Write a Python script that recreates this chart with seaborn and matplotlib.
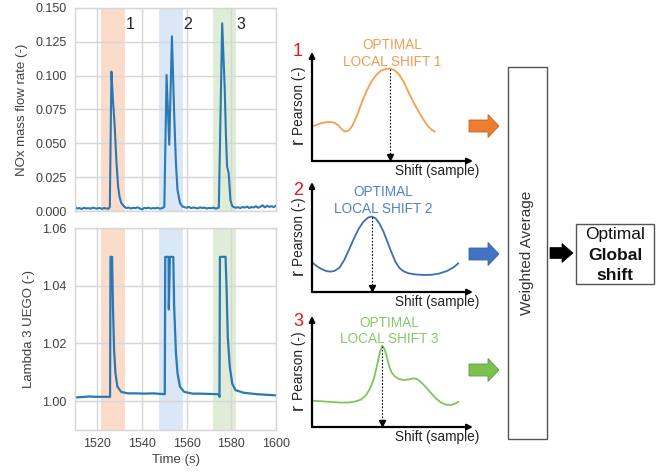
import matplotlib
matplotlib.use("Agg")
import matplotlib.pyplot as plt
import numpy as np
import pandas as pd
import seaborn as sns
from matplotlib.patches import FancyArrow, Rectangle

# ---------------- measured signals ----------------
nox_time = [
    1510, 1511, 1512, 1513, 1514, 1515, 1516, 1517, 1518, 1519, 1520, 1521, 1522, 1523, 1524, 1525,
    1525.6, 1526.3, 1527.0, 1527.8, 1528.5, 1529.3, 1530.0, 1530.7, 1531.4, 1532.2,
    1533, 1534, 1535, 1536, 1537, 1538, 1539, 1540, 1541, 1542, 1543, 1544, 1545, 1546, 1547, 1548, 1549,
    1550.0, 1551.0, 1552.2, 1553.4, 1554.4, 1555.2, 1555.9, 1557.0, 1558.0,
    1559, 1560, 1561, 1562, 1563, 1564, 1565, 1566, 1567, 1568, 1569, 1570, 1571, 1572, 1573,
    1574.4, 1575.9, 1577.0, 1577.6, 1578.1, 1578.8, 1579.6, 1580.3, 1580.9,
    1582, 1583, 1584, 1585, 1586, 1587, 1588, 1589, 1590, 1591, 1592, 1593, 1594, 1595, 1596, 1597,
    1598, 1599, 1600,
]
nox_rate = [
    0.0030, 0.0018, 0.0022, 0.0015, 0.0024, 0.0019, 0.0021, 0.0017, 0.0025, 0.0020, 0.0018, 0.0023,
    0.0016, 0.0022, 0.0019, 0.0017,
    0.0030, 0.1030, 0.0820, 0.0620, 0.0380, 0.0180, 0.0100, 0.0060, 0.0045, 0.0030,
    0.0022, 0.0026, 0.0018, 0.0024, 0.0021, 0.0027, 0.0019, 0.0012, 0.0023, 0.0020, 0.0025, 0.0018,
    0.0022, 0.0019, 0.0024, 0.0017, 0.0021,
    0.0030, 0.1005, 0.0490, 0.1290, 0.0720, 0.0350, 0.0155, 0.0060, 0.0035,
    0.0028, 0.0024, 0.0030, 0.0021, 0.0026, 0.0023, 0.0019, 0.0027, 0.0022, 0.0025, 0.0018, 0.0023,
    0.0020, 0.0026, 0.0017,
    0.0025, 0.1387, 0.0920, 0.0550, 0.0330, 0.0280, 0.0080, 0.0040, 0.0030,
    0.0024, 0.0028, 0.0021, 0.0030, 0.0025, 0.0033, 0.0022, 0.0029, 0.0026, 0.0035, 0.0024, 0.0031,
    0.0042, 0.0027, 0.0038, 0.0030, 0.0036, 0.0028, 0.0040,
]

lambda_time = [
    1510, 1513, 1516, 1519, 1522, 1525.7,
    1525.9, 1526.6, 1527.0, 1527.5, 1528.1, 1529.0, 1530.7, 1533.7,
    1537, 1541, 1545, 1550.2,
    1550.4, 1551.9, 1552.0, 1552.5, 1554.0,
    1554.4, 1555.2, 1555.9, 1557.0, 1558.9, 1562.6,
    1566, 1570, 1574.4, 1574.7,
    1574.9, 1577.4, 1577.9, 1578.4, 1579.3, 1580.4, 1581.9, 1585.6, 1591.5, 1596, 1600,
]
lambda_value = [
    1.0013, 1.0014, 1.0016, 1.0015, 1.0015, 1.0015,
    1.0500, 1.0500, 1.0327, 1.0177, 1.0097, 1.0050, 1.0032, 1.0027,
    1.0027, 1.0026, 1.0027, 1.0024,
    1.0500, 1.0500, 1.0318, 1.0500, 1.0500,
    1.0327, 1.0166, 1.0097, 1.0050, 1.0032, 1.0026,
    1.0026, 1.0025, 1.0024, 1.0015,
    1.0500, 1.0500, 1.0385, 1.0223, 1.0119, 1.0061, 1.0038, 1.0029, 1.0024, 1.0022, 1.0020,
]

window_bounds = [(1521.8, 1532.4), (1547.6, 1558.2), (1571.8, 1582.2)]
window_labels = ["1", "2", "3"]
window_label_time = [1534.9, 1560.4, 1584.1]
window_colors = ["#fbdccb", "#d9e7f6", "#dfedd6"]

time_ticks = [1520, 1540, 1560, 1580, 1600]
nox_ticks = [0.0, 0.025, 0.05, 0.075, 0.1, 0.125, 0.15]
lambda_ticks = [1.00, 1.02, 1.04, 1.06]

# ---------------- cross-correlation sketches ----------------
shift_1 = [0, 3, 6, 9, 11.5, 14, 16.5, 18.5, 20.5, 22.5, 25, 28, 31, 34, 37, 40, 43, 46, 48.4,
           51, 54, 57, 60, 63, 66, 69, 72, 74.5, 76.4]
r_pearson_1 = [0.315, 0.333, 0.348, 0.356, 0.358, 0.350, 0.325, 0.290, 0.270, 0.278, 0.320, 0.420,
               0.540, 0.645, 0.730, 0.792, 0.830, 0.845, 0.848, 0.835, 0.795, 0.725, 0.630, 0.540,
               0.460, 0.385, 0.320, 0.285, 0.269]

shift_2 = [0, 3, 6, 9, 11.5, 14, 17, 20, 23, 26, 29, 32, 35, 37.1, 39.5, 42, 44.5, 47, 49.5, 52,
           54.5, 57, 60, 64, 69, 74, 79, 84, 88, 90.9]
r_pearson_2 = [0.270, 0.235, 0.208, 0.190, 0.185, 0.192, 0.220, 0.290, 0.385, 0.485, 0.575, 0.640,
               0.678, 0.686, 0.670, 0.620, 0.545, 0.450, 0.355, 0.270, 0.215, 0.188, 0.170, 0.160,
               0.155, 0.156, 0.168, 0.192, 0.225, 0.261]

shift_3 = [0, 6, 12, 18, 23, 27, 30.5, 33.5, 36, 38.5, 40.5, 42.3, 43.7, 45, 46.5, 48, 49.5, 51.5,
           54, 57, 60, 63, 65.5, 68, 71, 74, 77, 80, 83, 86, 88.5, 90.9]
r_pearson_3 = [0.237, 0.232, 0.225, 0.220, 0.221, 0.230, 0.248, 0.285, 0.345, 0.440, 0.560, 0.680,
               0.730, 0.705, 0.630, 0.545, 0.490, 0.455, 0.432, 0.423, 0.428, 0.438, 0.432, 0.400,
               0.355, 0.305, 0.258, 0.222, 0.202, 0.198, 0.208, 0.228]

sketch_curves = [(shift_1, r_pearson_1), (shift_2, r_pearson_2), (shift_3, r_pearson_3)]
sketch_numbers = ["1", "2", "3"]
sketch_titles = ["LOCAL SHIFT 1", "LOCAL SHIFT 2", "LOCAL SHIFT 3"]
sketch_line_colors = ["#f4a04c", "#3e6db4", "#7ec55b"]
sketch_text_colors = ["#f39b4f", "#5581c8", "#88c866"]
arrow_fill = ["#ed7d31", "#4472c4", "#7cc150"]
arrow_edge = ["#c4662a", "#3a62a8", "#5c9a3c"]

# ---------------- styling ----------------
sns.set_theme(style="whitegrid")
plt.rcParams["font.family"] = ["Liberation Sans", "DejaVu Sans"]

W, H = 661, 472
fig = plt.figure(figsize=(W / 100, H / 100), dpi=100)


def px_rect(left, top, right, bottom):
    return [left / W, 1 - bottom / H, (right - left) / W, (bottom - top) / H]


grid_col = "#d6d6d6"
tick_col = "#404040"
line_col = "#2a78b4"

nox_df = pd.DataFrame({"time": nox_time, "nox": nox_rate})
lam_df = pd.DataFrame({"time": lambda_time, "lam": lambda_value})

ax1 = fig.add_axes(px_rect(75, 8, 276, 211))
ax2 = fig.add_axes(px_rect(75, 228, 276, 430))

for ax in (ax1, ax2):
    ax.set_axisbelow(True)
    for (a, b), c in zip(window_bounds, window_colors):
        ax.axvspan(a, b, color=c, lw=0, zorder=0.2)
    ax.grid(True, color=grid_col, lw=1)
    for sp in ax.spines.values():
        sp.set_color(grid_col)
        sp.set_linewidth(1)
    ax.set_xlim(1510, 1600)
    ax.set_xticks(time_ticks)
    ax.tick_params(length=0, pad=6, labelsize=9, labelcolor=tick_col)

sns.lineplot(data=nox_df, x="time", y="nox", ax=ax1, color=line_col, lw=1.5,
             estimator=None, sort=False)
ax1.set_ylim(0, 0.15)
ax1.set_yticks(nox_ticks)
ax1.set_yticklabels([f"{v:.3f}" for v in nox_ticks])
ax1.tick_params(labelbottom=False)
ax1.set_xlabel("")
ax1.set_ylabel("NOx mass flow rate (-)", fontsize=9.5, color=tick_col, labelpad=5)
for lab, t in zip(window_labels, window_label_time):
    ax1.text(t, 0.138, lab, fontsize=11.5, color="#222222", ha="center", va="center")

sns.lineplot(data=lam_df, x="time", y="lam", ax=ax2, color=line_col, lw=1.6,
             estimator=None, sort=False)
ax2.set_ylim(0.99, 1.06)
ax2.set_yticks(lambda_ticks)
ax2.set_yticklabels([f"{v:.2f}" for v in lambda_ticks])
ax2.set_xticklabels([str(t) for t in time_ticks])
ax2.set_xlabel("Time (s)", fontsize=9.5, color=tick_col, labelpad=3)
ax2.set_ylabel("Lambda 3 UEGO (-)", fontsize=9.5, color=tick_col, labelpad=5)

# ---------------- flow diagram layer ----------------
ax_bg = fig.add_axes([0, 0, 1, 1], zorder=0)
ax_bg.set_xlim(0, W)
ax_bg.set_ylim(H, 0)
ax_bg.axis("off")
ax_bg.patch.set_alpha(0)

for yc, fc, ec in zip([126, 254, 370], arrow_fill, arrow_edge):
    ax_bg.add_patch(FancyArrow(469, yc, 30, 0, width=12, head_width=23, head_length=11,
                               length_includes_head=True, fc=fc, ec=ec, lw=0.6))
ax_bg.add_patch(FancyArrow(550, 253, 23, 0, width=11, head_width=19, head_length=11,
                           length_includes_head=True, fc="black", ec="black", lw=0.5))

ax_bg.add_patch(Rectangle((508, 67), 39, 372, fill=False, ec="#555555", lw=1))
ax_bg.text(527.5, 253, "Weighted Average", rotation=90, ha="center", va="center",
           fontsize=11, color="#333333")
ax_bg.add_patch(Rectangle((576, 224), 78, 60, fill=False, ec="#555555", lw=1))
ax_bg.text(615, 234, "Optimal", ha="center", va="center", fontsize=12.5, color="#111111")
ax_bg.text(615, 255, "Global", ha="center", va="center", fontsize=12.5, fontweight="bold",
           color="#111111")
ax_bg.text(615, 275, "shift", ha="center", va="center", fontsize=12.5, fontweight="bold",
           color="#111111")

sketch_rects = [(312, 52, 473, 161), (312, 182, 473, 292), (312, 316, 473, 427)]
title_pos = [(0.50, 1.064, 0.911), (0.443, 0.912, 0.752), (0.48, 0.934, 0.79)]
number_y = [1.0, 0.927, 0.95]

for i, rect in enumerate(sketch_rects):
    sx = fig.add_axes(px_rect(*rect), zorder=2)
    sx.set_xlim(0, 100)
    sx.set_ylim(0, 1)
    sx.axis("off")
    sx.patch.set_alpha(0)
    shift, rp = sketch_curves[i]
    sns.lineplot(x=shift, y=rp, ax=sx, color=sketch_line_colors[i], lw=1.3,
                 estimator=None, sort=False)
    # axes drawn as arrows
    arrow_kw = dict(arrowstyle="-|>", color="black", lw=1.6, mutation_scale=8,
                    shrinkA=0, shrinkB=0)
    sx.annotate("", xy=(0, 1.0), xytext=(0, 0), xycoords="axes fraction",
                textcoords="axes fraction", arrowprops=arrow_kw, annotation_clip=False)
    sx.annotate("", xy=(1.0, 0), xytext=(0, 0), xycoords="axes fraction",
                textcoords="axes fraction", arrowprops=arrow_kw, annotation_clip=False)
    # optimal local shift: the position of the correlation maximum
    k = int(np.argmax(rp))
    sx.plot([shift[k], shift[k]], [rp[k], 0.04], ls=(0, (1.5, 1.5)), color="black", lw=0.8)
    sx.plot(shift[k], 0.035, marker="v", ms=4, color="black", clip_on=False)
    tx, ty1, ty2 = title_pos[i]
    sx.text(tx, ty1, "OPTIMAL", transform=sx.transAxes, ha="center", va="center",
            fontsize=9.8, color=sketch_text_colors[i])
    sx.text(tx, ty2, sketch_titles[i], transform=sx.transAxes, ha="center",
            va="center", fontsize=9.8, color=sketch_text_colors[i])
    sx.text(-0.087, number_y[i], sketch_numbers[i], transform=sx.transAxes, ha="center",
            va="center", fontsize=13, color="#e3191c")
    sx.text(-0.056, 0.24, "Pearson (-)", transform=sx.transAxes, rotation=90,
            rotation_mode="anchor", ha="left", va="baseline", fontsize=9.8, color="#222222")
    sx.text(-0.056, 0.21, "r", transform=sx.transAxes, rotation=90,
            rotation_mode="anchor", ha="right", va="baseline", fontsize=13, color="#222222")
    sx.text(1.037, -0.09, "Shift (sample)", transform=sx.transAxes, ha="right", va="center",
            fontsize=9.8, color="#222222")

fig.savefig("out.png", dpi=100)
